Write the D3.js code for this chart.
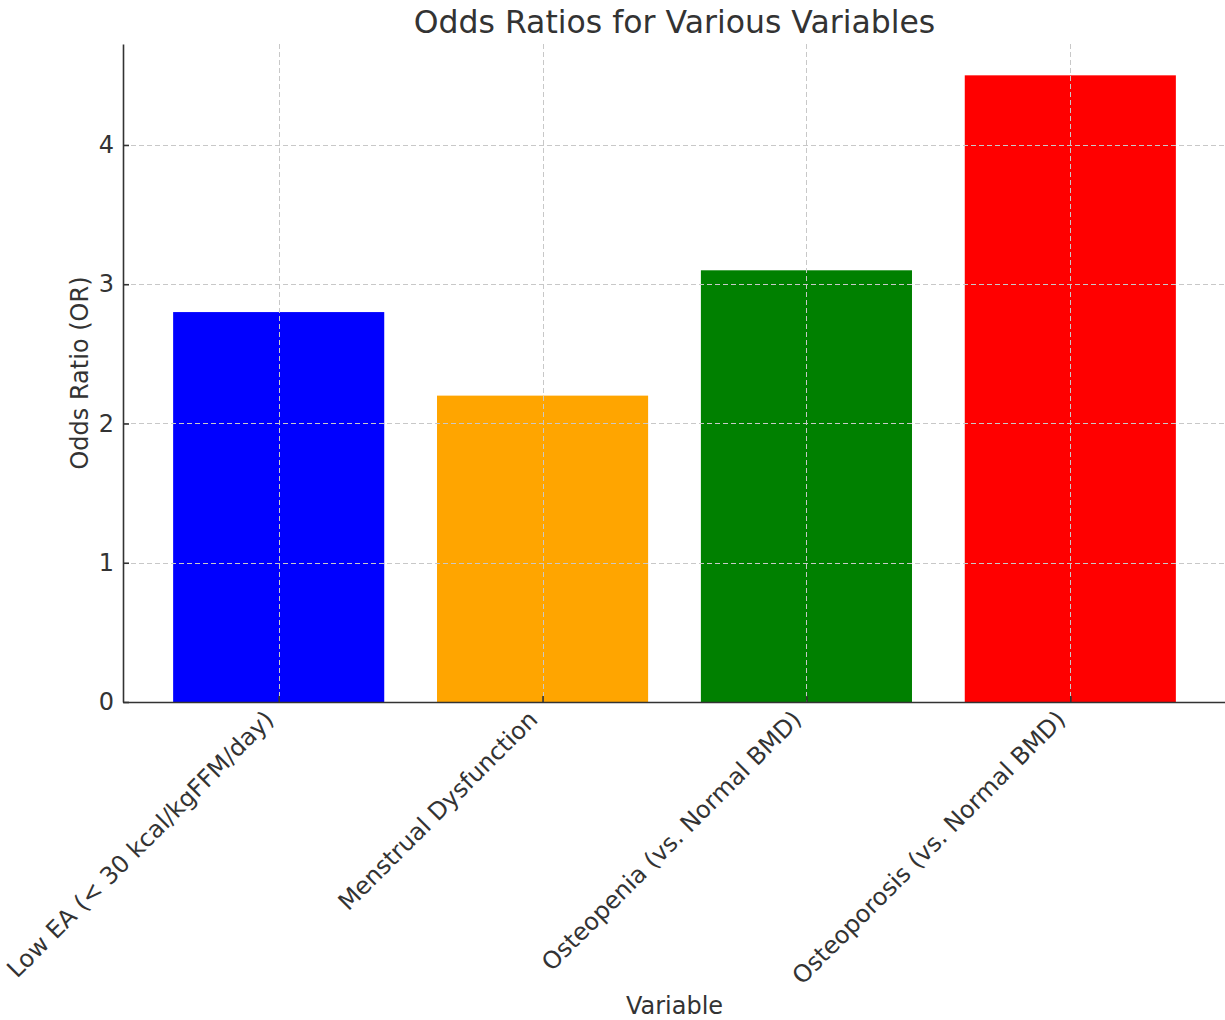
<!DOCTYPE html>
<html>
<head>
<meta charset="utf-8">
<script src="https://cdn.jsdelivr.net/npm/d3@7"></script>
<style>
  html, body { margin: 0; padding: 0; background: #fff; }
  svg { display: block; font-family: "DejaVu Sans", sans-serif; }
</style>
</head>
<body>
<svg id="chart" width="1225" height="1020"></svg>
<script>
const categories = [
  "Low EA (< 30 kcal/kgFFM/day)",
  "Menstrual Dysfunction",
  "Osteopenia (vs. Normal BMD)",
  "Osteoporosis (vs. Normal BMD)"
];
const oddsRatios = [2.8, 2.2, 3.1, 4.5];
const barColors = ["#0000ff", "#ffa500", "#008000", "#ff0000"];
const yTicks = [0, 1, 2, 3, 4];
const titleText = "Odds Ratios for Various Variables";
const xLabelText = "Variable";
const yLabelText = "Odds Ratio (OR)";

(function () {
const svg = d3.select("#chart");
const mLeft = 123, mRight = 1226, mTop = 44, mBottom = 702;
const textColor = "#333333";
const fs = 24;

const n = categories.length;
const barW = 0.8;
const pad = (n - 1 + barW) * 0.05;
const x = d3.scaleLinear()
  .domain([-barW / 2 - pad, n - 1 + barW / 2 + pad])
  .range([mLeft, mRight]);
const yMax = d3.max(oddsRatios) * 1.05;
const y = d3.scaleLinear().domain([0, yMax]).range([mBottom, mTop]);

// bars
svg.append("g").selectAll("rect")
  .data(oddsRatios)
  .join("rect")
  .attr("x", (d, i) => x(i - barW / 2))
  .attr("width", (d, i) => x(i + barW / 2) - x(i - barW / 2))
  .attr("y", d => y(d))
  .attr("height", d => y(0) - y(d))
  .attr("fill", (d, i) => barColors[i]);

// grid (drawn above bars)
const grid = svg.append("g")
  .attr("stroke", "#c8c8c8")
  .attr("stroke-width", 1)
  .attr("stroke-dasharray", "5,3");
grid.selectAll("line.h")
  .data(yTicks)
  .join("line")
  .attr("class", "h")
  .attr("x1", mLeft).attr("x2", mRight)
  .attr("y1", d => Math.round(y(d)) + 0.5)
  .attr("y2", d => Math.round(y(d)) + 0.5);
grid.selectAll("line.v")
  .data(categories.map((c, i) => i))
  .join("line")
  .attr("class", "v")
  .attr("y1", mTop).attr("y2", mBottom)
  .attr("x1", d => Math.round(x(d)) + 0.5)
  .attr("x2", d => Math.round(x(d)) + 0.5);

// y axis
const yAxis = d3.axisLeft(y).tickValues(yTicks).tickFormat(d3.format("d"))
  .tickSizeInner(-6).tickSizeOuter(0).tickPadding(9);
const gy = svg.append("g").attr("transform", `translate(${mLeft},0)`).call(yAxis);
gy.select(".domain").attr("stroke", "#333").attr("stroke-width", 1.6);
gy.selectAll(".tick line").attr("stroke", "#333").attr("stroke-width", 1.6);
gy.selectAll(".tick text").attr("font-size", fs).attr("fill", textColor)
  .attr("font-family", "DejaVu Sans");

// x axis
const xAxis = d3.axisBottom(x).tickValues(categories.map((c, i) => i))
  .tickFormat(i => categories[i]).tickSizeInner(-6).tickSizeOuter(0);
const gx = svg.append("g").attr("transform", `translate(0,${mBottom})`).call(xAxis);
gx.select(".domain").attr("stroke", "#333").attr("stroke-width", 1.6);
gx.selectAll(".tick line").attr("stroke", "#333").attr("stroke-width", 1.6);
gx.selectAll(".tick text")
  .attr("font-size", fs).attr("fill", textColor).attr("font-family", "DejaVu Sans")
  .attr("text-anchor", "end")
  .attr("dy", 0)
  .attr("y", 0)
  .attr("transform", "translate(-4,19) rotate(-45)");

// title
svg.append("text")
  .attr("x", (mLeft + mRight) / 2).attr("y", 33)
  .attr("text-anchor", "middle")
  .attr("font-size", 31.5).attr("fill", textColor)
  .text(titleText);

// axis labels
svg.append("text")
  .attr("x", (mLeft + mRight) / 2).attr("y", 1014)
  .attr("text-anchor", "middle")
  .attr("font-size", fs).attr("fill", textColor)
  .text(xLabelText);
svg.append("text")
  .attr("transform", `translate(88,${(mTop + mBottom) / 2}) rotate(-90)`)
  .attr("text-anchor", "middle")
  .attr("font-size", fs).attr("fill", textColor)
  .text(yLabelText);
})();
</script>
</body>
</html>
